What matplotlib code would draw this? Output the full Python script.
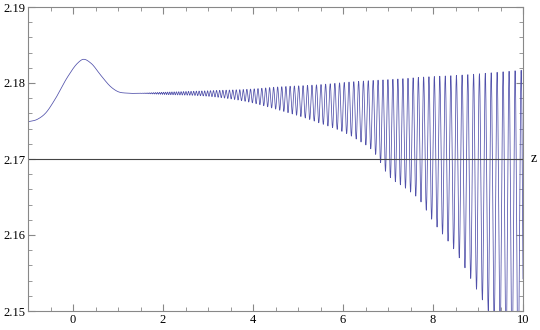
import numpy as np
import matplotlib
matplotlib.use("Agg")
import matplotlib.pyplot as plt
from matplotlib.ticker import MultipleLocator

# Partie lisse
x_lisse = [-1.0, -0.8, -0.6, -0.415, -0.12, 0.10, 0.215, 0.40, 0.62, 0.84, 0.99, 1.21, 1.5]
y_lisse = [2.1749, 2.1752, 2.1761, 2.1777, 2.1808, 2.1826, 2.1831, 2.1826, 2.1810, 2.1795, 2.17889, 2.17866, 2.17865]

# Enveloppes de l'oscillation
x_env = [1.5, 2.0, 3.1, 3.9, 4.6, 5.4, 6.3, 6.7, 7.0, 7.4, 7.7, 8.0, 8.5, 9.0, 9.5, 10.0]
y_haut = [2.17866, 2.17878, 2.17900, 2.17918, 2.17950, 2.17975, 2.18020, 2.18035, 2.18045, 2.18060, 2.18075, 2.18085, 2.18100, 2.18120, 2.18145, 2.18170]
y_bas = [2.17864, 2.17850, 2.17820, 2.17750, 2.17640, 2.17490, 2.17260, 2.17080, 2.16790, 2.16610, 2.16460, 2.16180, 2.15780, 2.15250, 2.14700, 2.14100]

# Periode locale des oscillations
x_per = [1.5, 2.0, 2.5, 3.5, 4.5, 5.3, 6.3, 7.2, 8.0, 9.0, 10.0]
periode = [0.040, 0.045, 0.055, 0.075, 0.090, 0.100, 0.107, 0.111, 0.120, 0.130, 0.135]

def lisse(xk, yk, x):
    # interpolation de Catmull-Rom
    xk = np.asarray(xk); yk = np.asarray(yk)
    m = np.gradient(yk, xk)
    i = np.clip(np.searchsorted(xk, x) - 1, 0, len(xk) - 2)
    h = xk[i+1] - xk[i]
    t = (x - xk[i]) / h
    h00 = 2*t**3 - 3*t**2 + 1
    h10 = t**3 - 2*t**2 + t
    h01 = -2*t**3 + 3*t**2
    h11 = t**3 - t**2
    return h00*yk[i] + h10*h*m[i] + h01*yk[i+1] + h11*h*m[i+1]

x1 = np.linspace(-1, 1.5, 600)
y1 = lisse(x_lisse, y_lisse, x1)

x2 = np.linspace(1.5, 10, 40000)
haut = lisse(x_env, y_haut, x2)
bas = lisse(x_env, y_bas, x2)
p = np.interp(x2, x_per, periode)
phase = 2*np.pi*np.concatenate([[0], np.cumsum(np.diff(x2) / p[1:])])
y2 = (haut + bas)/2 + (haut - bas)/2*np.cos(phase)

x = np.concatenate([x1, x2[1:]])
y = np.concatenate([y1, y2[1:]])

plt.rcParams['font.family'] = ['Liberation Serif', 'DejaVu Serif']
fig = plt.figure(figsize=(5.4, 3.3), dpi=100)
ax = fig.add_axes([28/540, 1-311/330, (523-28)/540, (311-7)/330])

ax.plot(x, y, color='#5050aa', lw=0.55)
ax.axhline(2.17, color='#444444', lw=0.8)
ax.text(1.015, 2.17, 'z', transform=ax.get_yaxis_transform(), ha='left', va='center', fontsize=10)

ax.set_xlim(-1, 10)
ax.set_ylim(2.15, 2.19)
ax.xaxis.set_major_locator(MultipleLocator(2))
ax.xaxis.set_minor_locator(MultipleLocator(0.5))
ax.yaxis.set_major_locator(MultipleLocator(0.01))
ax.yaxis.set_minor_locator(MultipleLocator(0.002))
ax.yaxis.set_major_formatter(plt.FuncFormatter(lambda v, pos: '%.2f' % v))
for s in ax.spines.values():
    s.set_color('#888888')
    s.set_linewidth(0.8)
ax.tick_params(which='both', direction='in', top=True, right=True, color='#888888', labelsize=9, pad=2)
ax.tick_params(which='major', length=5)
ax.tick_params(which='minor', length=3)

fig.savefig('out.png', dpi=100)
